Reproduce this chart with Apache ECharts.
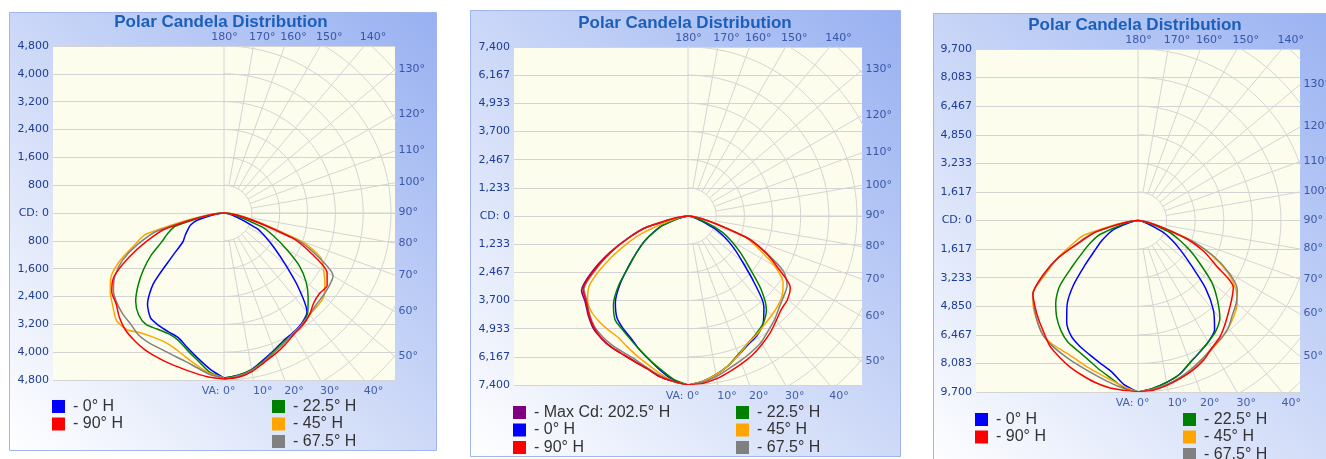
<!DOCTYPE html>
<html>
<head>
<meta charset="utf-8">
<script src="https://cdn.jsdelivr.net/npm/echarts@6/dist/echarts.min.js"></script>
<style>
html,body{margin:0;padding:0;background:#ffffff;}
#chart{width:1326px;height:459px;}
</style>
</head>
<body>
<div id="chart"></div>
<script>
// ---------------- data ----------------
// vertical angles (deg) at which candela values were read
const VA = [0,5,10,15,20,25,30,35,40,45,50,55,60,65,70,75,80,85,90];

const chartTitle = 'Polar Candela Distribution';
const cdMax = [4800, 7400, 9700];
const yTicks1 = ['4,800','4,000','3,200','2,400','1,600','800','CD: 0','800','1,600','2,400','3,200','4,000','4,800'];
const yTicks2 = ['7,400','6,167','4,933','3,700','2,467','1,233','CD: 0','1,233','2,467','3,700','4,933','6,167','7,400'];
const yTicks3 = ['9,700','8,083','6,467','4,850','3,233','1,617','CD: 0','1,617','3,233','4,850','6,467','8,083','9,700'];
const bottomAngles = [0,10,20,30,40];
const rightAngles = [50,60,70,80,90,100,110,120,130];
const topAngles = [140,150,160,170,180];

// Panel 1 (cd)
const p1_H0     = [4740,4680,4570,4370,4200,4050,3970,3880,3710,3020,2300,1780,1380,1030,0,0,0,0,0];
const p1_H180   = [4740,4510,4250,4020,3820,3770,3740,3680,3420,2870,1950,1440,1290,1150,1030,800,0,0,0];
const p1_H22_5  = [4740,4680,4570,4400,4220,4080,3990,3910,3740,3420,3080,2640,2070,1580,1150,0,0,0,0];
const p1_H202_5 = [4740,4600,4310,4080,3880,3820,3850,3910,3820,3590,3220,2820,2410,1980,1720,1440,0,0,0];
const p1_H45    = [4770,4710,4600,4430,4250,4110,3990,3910,3820,3790,3740,3540,3310,3080,2360,0,0,0,0];
const p1_H225   = [4740,4630,4450,4280,4140,4080,4110,4200,4370,4370,4170,3990,3760,3330,2760,2300,0,0,0];
const p1_H67_5  = [4770,4710,4600,4430,4250,4110,3990,3910,3820,3740,3710,3680,3620,2990,2180,0,0,0,0];
const p1_H247_5 = [4740,4660,4510,4400,4340,4310,4310,4280,4170,4110,4020,3880,3620,3220,2640,1950,0,0,0];
const p1_H90    = [4770,4740,4630,4450,4310,4170,4020,3940,3820,3650,3590,3620,3420,2790,2070,0,0,0,0];
const p1_H270   = [4770,4740,4680,4630,4600,4570,4540,4480,4400,4250,4050,3940,3650,3020,2360,1720,0,0,0];

// Panel 2 (cd)
const p2_H0     = [7400,7270,7050,6790,6480,6220,6040,5740,5170,4070,3110,2450,1840,1230,0,0,0,0,0];
const p2_H180   = [7400,7230,6880,6520,6220,5910,5690,5430,4950,4200,3370,2720,2190,1660,1180,0,0,0,0];
const p2_H22_5  = [7400,7270,7050,6790,6440,6170,5960,5740,5340,4510,3500,2800,2190,1620,880,0,0,0,0];
const p2_H202_5 = [7400,7180,6830,6520,6220,5960,5740,5560,5080,4290,3330,2720,2190,1620,1140,0,0,0,0];
const p2_H45    = [7400,7270,7050,6790,6480,6170,6000,5820,5690,5560,5390,5080,4380,3420,2630,0,0,0,0];
const p2_H225   = [7400,7270,7010,6740,6520,6310,6130,6090,6040,5960,5740,5260,4200,3070,1970,0,0,0,0];
const p2_H67_5  = [7400,7310,7140,6920,6740,6570,6390,6130,5910,5650,5470,5300,4820,3720,2720,0,0,0,0];
const p2_H247_5 = [7400,7270,7090,6880,6700,6610,6570,6480,6350,6090,5780,5560,4640,3680,2720,1840,0,0,0];
const p2_H90    = [7400,7360,7230,7050,6880,6700,6480,6260,6000,5780,5690,5470,4550,3720,2630,0,0,0,0];
const p2_H270   = [7400,7270,7140,6920,6790,6700,6660,6570,6390,6130,5820,5610,4730,3720,2720,1840,0,0,0];
const p2_Max202_5 = [7400,7270,7140,6920,6790,6700,6660,6570,6440,6170,5870,5690,4820,3770,2760,1840,0,0,0];

// Panel 3 (cd)
const p3_H0     = [9700,9530,9300,9020,8570,8230,7940,7550,6640,5390,3910,2950,2210,1530,0,0,0,0,0];
const p3_H180   = [9700,9300,8680,8340,8060,7830,7550,7030,6240,5160,3910,3010,2440,1930,1420,0,0,0,0];
const p3_H22_5  = [9700,9530,9300,9020,8570,8230,7940,7660,7200,6350,5450,4310,3400,2550,1820,0,0,0,0];
const p3_H202_5 = [9700,9470,9020,8680,8340,8110,7940,7600,7150,6580,5790,4540,3630,2950,2270,0,0,0,0];
const p3_H45    = [9700,9590,9420,9250,8960,8680,8400,8170,7940,7660,7320,6750,5840,4540,2840,0,0,0,0];
const p3_H225   = [9700,9420,9130,8910,8740,8570,8510,8510,8400,8060,7720,7260,6010,4990,3970,3120,0,0,0];
const p3_H67_5  = [9700,9590,9420,9190,8910,8620,8340,8170,7940,7550,7260,6860,5960,4650,2950,0,0,0,0];
const p3_H247_5 = [9700,9530,9300,9080,8910,8790,8680,8570,8400,8060,7660,7260,6130,4940,3520,2550,0,0,0];
const p3_H90    = [9700,9640,9470,9250,9020,8740,8340,8060,7660,7260,6920,6580,5110,4080,2720,0,0,0,0];
const p3_H270   = [9700,9640,9590,9470,9300,9130,8910,8680,8280,7940,7600,7260,6240,4990,3400,2380,0,0,0];

const planeColors = {'Max Cd: 202.5° H':'#800080','0° H':'#0000ff','90° H':'#ff0000','22.5° H':'#008000','45° H':'#ffa500','67.5° H':'#808080'};

const panels = [
  {yTicks:yTicks1, curves:[['0° H',p1_H0,p1_H180],['22.5° H',p1_H22_5,p1_H202_5],['45° H',p1_H45,p1_H225],['67.5° H',p1_H67_5,p1_H247_5],['90° H',p1_H90,p1_H270]], maxLeft:null,
   legendLeft:['0° H','90° H'], legendRight:['22.5° H','45° H','67.5° H']},
  {yTicks:yTicks2, curves:[['0° H',p2_H0,p2_H180],['22.5° H',p2_H22_5,p2_H202_5],['45° H',p2_H45,p2_H225],['67.5° H',p2_H67_5,p2_H247_5],['90° H',p2_H90,p2_H270]], maxLeft:p2_Max202_5,
   legendLeft:['Max Cd: 202.5° H','0° H','90° H'], legendRight:['22.5° H','45° H','67.5° H']},
  {yTicks:yTicks3, curves:[['0° H',p3_H0,p3_H180],['22.5° H',p3_H22_5,p3_H202_5],['45° H',p3_H45,p3_H225],['67.5° H',p3_H67_5,p3_H247_5],['90° H',p3_H90,p3_H270]], maxLeft:null,
   legendLeft:['0° H','90° H'], legendRight:['22.5° H','45° H','67.5° H']}
];

// ---------------- layout ----------------
const layouts = [
  {left:53,  top:46, half:171, height:334, titleX:221,  titleY:22, legTop:398.5, legL:52,  legR:272,  box:[9.5,12.5,427,438]},
  {left:514, top:47, half:174, height:338, titleX:685,  titleY:23, legTop:404.5, legL:513, legR:736,  box:[470.5,10.5,430,446]},
  {left:976, top:49, half:162, height:343, titleX:1135, titleY:25, legTop:411.5, legL:975, legR:1183, box:[933.5,13.5,420,460]}
];
const legendRowPitch = 17.5;

const labelColor = '#1d3c95';
const gridColor = '#d4d4d4';
const rad = d => d * Math.PI / 180;

const option = {
  animation:false,
  grid:[], xAxis:[], yAxis:[], polar:[], radiusAxis:[], angleAxis:[], legend:[], series:[],
  graphic:{elements:[]}
};

function curveData(right, left) {
  const d = [];
  for (let i = 0; i < VA.length; i++) d.push([right[i], VA[i]]);
  if (left) for (let i = VA.length - 1; i >= 0; i--) d.push([left[i], -VA[i]]);
  return d;
}
function leftOnly(left) {
  const d = [];
  for (let i = VA.length - 1; i >= 0; i--) d.push([left[i], -VA[i]]);
  return d;
}

panels.forEach((P, i) => {
  const L = layouts[i];
  const hh = L.height / 2;
  const Xu = 6 * L.half / hh;   // x extent in units of (max/6) with equal scaling

  // panel background
  option.graphic.elements.push({
    type:'rect', z:-10, silent:true,
    shape:{x:L.box[0], y:L.box[1], width:L.box[2], height:L.box[3]},
    style:{
      fill:new echarts.graphic.LinearGradient(0, 1, 1, 0, [
        {offset:0, color:'#ffffff'},
        {offset:0.45, color:'#d1dcf8'},
        {offset:1, color:'#97b0f1'}
      ]),
      stroke:'#9fb6ee', lineWidth:1
    }
  });
  option.graphic.elements.push({
    type:'text', z:10, silent:true,
    style:{text:chartTitle, x:L.titleX, y:L.titleY, align:'center', verticalAlign:'middle',
      textAlign:'center', textVerticalAlign:'middle',
      font:'bold 17px "Liberation Sans", Arial, sans-serif', fill:'#1d5fb8'}
  });

  option.grid.push({left:L.left, top:L.top, width:2 * L.half, height:L.height, show:true,
    backgroundColor:'#fdfdee', borderWidth:0, containLabel:false, outerBoundsMode:'none'});
  option.xAxis.push({gridIndex:i, type:'value', min:-Xu, max:Xu, show:false});
  option.yAxis.push({gridIndex:i, type:'value', min:-6, max:6, interval:1,
    axisLine:{show:false}, axisTick:{show:false},
    splitLine:{show:true, lineStyle:{color:gridColor, width:1}},
    axisLabel:{margin:4, color:labelColor, fontFamily:'DejaVu Sans', fontSize:11,
      formatter:v => P.yTicks[Math.round(6 - v)]}});

  option.polar.push({center:[L.left + L.half, L.top + hh], radius:[0, hh]});
  option.radiusAxis.push({polarIndex:i, type:'value', min:0, max:cdMax[i], show:false,
    axisLine:{show:false}, axisTick:{show:false}, axisLabel:{show:false}, splitLine:{show:false}});
  option.angleAxis.push({polarIndex:i, type:'value', min:-180, max:180, startAngle:90, clockwise:false, show:false,
    axisLine:{show:false}, axisTick:{show:false}, axisLabel:{show:false}, splitLine:{show:false}});

  // polar grid (right half), clipped to the plot area
  const gl = (data) => ({type:'line', xAxisIndex:i, yAxisIndex:i, data, symbol:'none', silent:true, clip:true,
    lineStyle:{color:gridColor, width:1}, z:1});
  option.series.push(gl([[0, -6], [0, 6]]));
  for (let k = 1; k <= 8; k++) {
    const pts = [];
    for (let a = 0; a <= 180; a += 2) pts.push([k * Math.sin(rad(a)), -k * Math.cos(rad(a))]);
    option.series.push(gl(pts));
  }
  for (let a = 10; a <= 170; a += 10) {
    option.series.push(gl([[Math.sin(rad(a)), -Math.cos(rad(a))], [12 * Math.sin(rad(a)), -12 * Math.cos(rad(a))]]));
  }

  // angle labels
  const items = [];
  bottomAngles.forEach(a => {
    items.push({value:[6 * Math.tan(rad(a)), -6], label:{
      formatter: a === 0 ? 'VA: 0°' : a + '°',
      position: a === 0 ? [12, 12] : [0, 12], align: a === 0 ? 'right' : 'left', verticalAlign:'middle'}});
  });
  topAngles.forEach(a => {
    items.push({value:[6 * Math.tan(rad(180 - a)), 6], label:{
      formatter: a + '°', position: a === 180 ? [1, -8] : [-4, -8], align: a === 180 ? 'center' : 'left', verticalAlign:'middle'}});
  });
  rightAngles.forEach(a => {
    items.push({value:[Xu, -Xu * Math.cos(rad(a)) / Math.sin(rad(a))], label:{
      formatter: a + '°', position:[4, 0], align:'left', verticalAlign:'middle'}});
  });
  option.series.push({type:'scatter', xAxisIndex:i, yAxisIndex:i, symbolSize:1, silent:true, clip:false,
    itemStyle:{color:'rgba(0,0,0,0)'}, z:6,
    label:{show:true, color:labelColor, fontFamily:'DejaVu Sans', fontSize:11}, data:items});

  // candela curves
  if (P.maxLeft) {
    option.series.push({type:'line', name:'Max Cd: 202.5° H', coordinateSystem:'polar', polarIndex:i,
      data:leftOnly(P.maxLeft), symbol:'none', smooth:0.25, silent:true, z:3,
      lineStyle:{color:planeColors['Max Cd: 202.5° H'], width:1.6}, itemStyle:{color:planeColors['Max Cd: 202.5° H']}});
  }
  P.curves.forEach(c => {
    option.series.push({type:'line', name:c[0], coordinateSystem:'polar', polarIndex:i,
      data:curveData(c[1], c[2]), symbol:'none', smooth:0.25, silent:true, z:4,
      lineStyle:{color:planeColors[c[0]], width:1.5}, itemStyle:{color:planeColors[c[0]]}});
  });

  // legends: one component per entry so nothing wraps at the page edge
  const leg = (left, top, name) => ({orient:'horizontal', left, top, padding:0, itemWidth:13, itemHeight:13,
    icon:'rect', selectedMode:false, data:[name], formatter:'- {name}',
    itemStyle:{borderWidth:0},
    textStyle:{fontFamily:'Liberation Sans', fontSize:16, lineHeight:16, color:'#333333', padding:[0,0,0,3]}});
  P.legendLeft.forEach((n, r) => option.legend.push(leg(L.legL, L.legTop + r * legendRowPitch, n)));
  P.legendRight.forEach((n, r) => option.legend.push(leg(L.legR, L.legTop + r * legendRowPitch, n)));
});

const chart = echarts.init(document.getElementById('chart'), null, {renderer:'canvas', width:1326, height:459});
chart.setOption(option);
</script>
</body>
</html>
